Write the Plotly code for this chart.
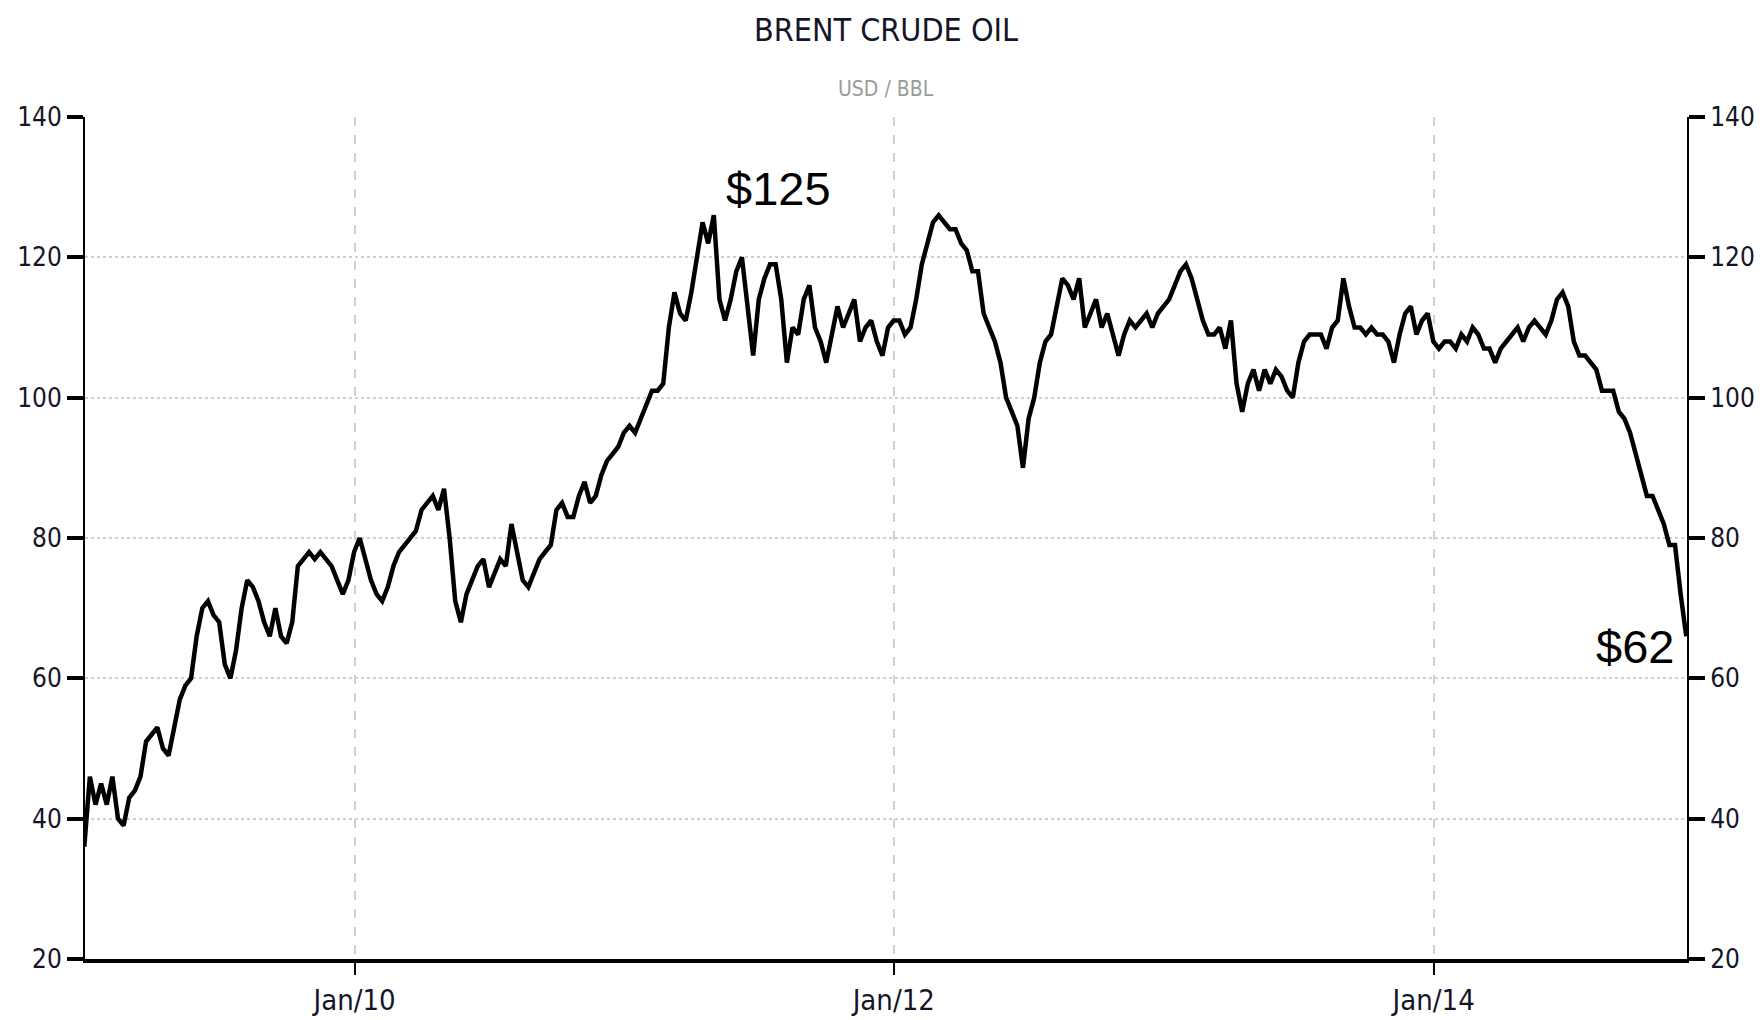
import pandas as pd
import plotly.graph_objects as go

# Brent crude, USD/BBL (roughly every 7.6 days)
start_date = "2008-12-31"
end_date = "2014-12-09"
prices = [
    36, 46, 42, 45, 42, 46, 40, 39, 43, 44,
    46, 51, 52, 53, 50, 49, 53, 57, 59, 60,
    66, 70, 71, 69, 68, 62, 60, 64, 70, 74,
    73, 71, 68, 66, 70, 66, 65, 68, 76, 77,
    78, 77, 78, 77, 76, 74, 72, 74, 78, 80,
    77, 74, 72, 71, 73, 76, 78, 79, 80, 81,
    84, 85, 86, 84, 87, 80, 71, 68, 72, 74,
    76, 77, 73, 75, 77, 76, 82, 78, 74, 73,
    75, 77, 78, 79, 84, 85, 83, 83, 86, 88,
    85, 86, 89, 91, 92, 93, 95, 96, 95, 97,
    99, 101, 101, 102, 110, 115, 112, 111, 115, 120,
    125, 122, 126, 114, 111, 114, 118, 120, 113, 106,
    114, 117, 119, 119, 114, 105, 110, 109, 114, 116,
    110, 108, 105, 109, 113, 110, 112, 114, 108, 110,
    111, 108, 106, 110, 111, 111, 109, 110, 114, 119,
    122, 125, 126, 125, 124, 124, 122, 121, 118, 118,
    112, 110, 108, 105, 100, 98, 96, 90, 97, 100,
    105, 108, 109, 113, 117, 116, 114, 117, 110, 112,
    114, 110, 112, 109, 106, 109, 111, 110, 111, 112,
    110, 112, 113, 114, 116, 118, 119, 117, 114, 111,
    109, 109, 110, 107, 111, 102, 98, 102, 104, 101,
    104, 102, 104, 103, 101, 100, 105, 108, 109, 109,
    109, 107, 110, 111, 117, 113, 110, 110, 109, 110,
    109, 109, 108, 105, 109, 112, 113, 109, 111, 112,
    108, 107, 108, 108, 107, 109, 108, 110, 109, 107,
    107, 105, 107, 108, 109, 110, 108, 110, 111, 110,
    109, 111, 114, 115, 113, 108, 106, 106, 105, 104,
    101, 101, 101, 98, 97, 95, 92, 89, 86, 86,
    84, 82, 79, 79, 72, 66,
]
dates = pd.date_range(start_date, end_date, periods=len(prices))

x_tickvals = ["2010-01-01", "2012-01-01", "2014-01-01"]
x_ticktext = ["Jan/10", "Jan/12", "Jan/14"]
y_tickvals = [20, 40, 60, 80, 100, 120, 140]

title_text = "BRENT CRUDE OIL"
subtitle_text = "USD / BBL"
peak_label = "$125"
last_label = "$62"

NARROW = "Liberation Sans Narrow, Arial Narrow, DejaVu Sans Condensed, sans-serif"
SANS = "Liberation Sans, Arial, Helvetica, sans-serif"

fig = go.Figure()
fig.add_trace(go.Scatter(x=dates, y=prices, mode="lines",
                         line=dict(color="black", width=4.5),
                         showlegend=False, hoverinfo="x+y"))
# invisible twin so the right-hand axis renders
fig.add_trace(go.Scatter(x=dates, y=prices, mode="lines", yaxis="y2",
                         line=dict(color="rgba(0,0,0,0)", width=0),
                         showlegend=False, hoverinfo="skip"))

peak_i = max(range(len(prices)), key=lambda i: prices[i])
fig.add_annotation(x=dates[peak_i], y=prices[peak_i], text=peak_label,
                   showarrow=False, xanchor="left", yanchor="bottom",
                   xshift=10, yshift=-2,
                   font=dict(family=SANS, size=47, color="black"))
fig.add_annotation(x=dates[-1], y=prices[-1], text=last_label,
                   showarrow=False, xanchor="right", yanchor="middle",
                   xshift=-10, yshift=-10,
                   font=dict(family=SANS, size=47, color="black"))

fig.add_annotation(x=0.5, y=1, xref="paper", yref="paper", yanchor="bottom",
                   yshift=66, text=title_text, showarrow=False,
                   font=dict(family=NARROW, size=32, color="#15152a"))
fig.add_annotation(x=0.5, y=1, xref="paper", yref="paper", yanchor="bottom",
                   yshift=14, text=subtitle_text, showarrow=False,
                   font=dict(family=NARROW, size=21, color="#9a9a9a"))

yaxis_common = dict(
    range=[20, 140], tickvals=y_tickvals, ticks="outside", ticklen=16,
    tickwidth=4, tickcolor="black", showline=True, linecolor="black",
    linewidth=2, zeroline=False, automargin=False,
    tickfont=dict(family=NARROW, size=26, color="#15152a"),
)

# page body has an 8px default margin, so the figure is sized to fit inside it
fig.update_layout(
    width=1754, height=1012,
    margin=dict(l=77, r=75, t=109, b=61),
    plot_bgcolor="white", paper_bgcolor="white",
    xaxis=dict(
        type="date", range=["2009-01-01", "2014-12-10"],
        tickvals=x_tickvals, ticktext=x_ticktext,
        ticks="outside", ticklen=12, tickwidth=2, tickcolor="black",
        showline=True, linecolor="black", linewidth=4,
        showgrid=True, gridcolor="#d0d0d0", gridwidth=2, griddash="dash",
        zeroline=False, automargin=False,
        tickfont=dict(family=NARROW, size=29, color="#15152a"),
    ),
    yaxis=dict(**yaxis_common, side="left",
               showgrid=True, gridcolor="#d0d0d0", gridwidth=2, griddash="dot"),
    yaxis2=dict(**yaxis_common, side="right", overlaying="y", showgrid=False),
)

fig.write_html("out.html")
